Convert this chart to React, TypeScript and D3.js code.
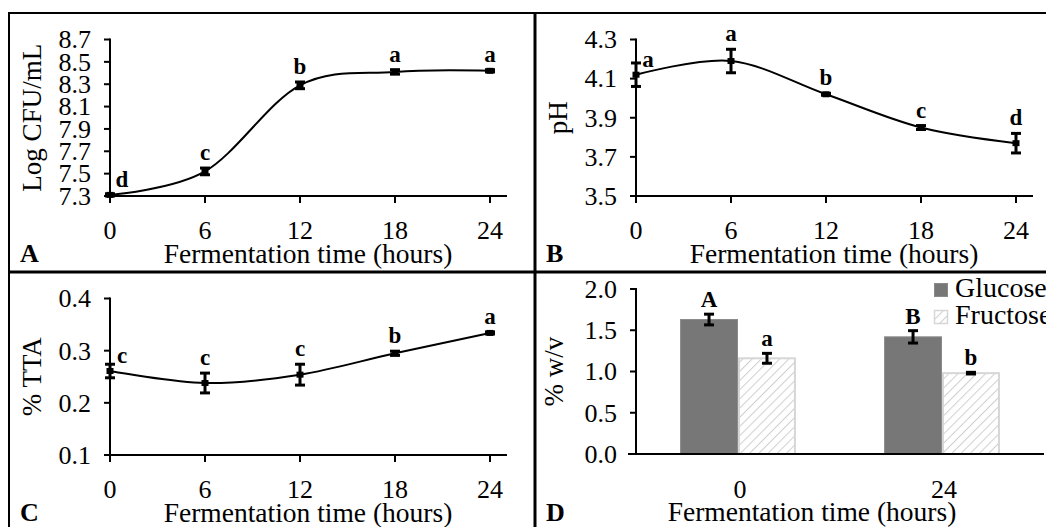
import * as d3 from "d3";

// ---- data ----
const hours = [0, 6, 12, 18, 24];

const cfuMean = [7.31, 7.52, 8.29, 8.41, 8.42];
const cfuErr = [0.01, 0.03, 0.03, 0.02, 0.01];
const cfuLetters = ["d", "c", "b", "a", "a"];
const cfuTicks = [7.3, 7.5, 7.7, 7.9, 8.1, 8.3, 8.5, 8.7];

const phMean = [4.12, 4.19, 4.02, 3.85, 3.77];
const phErr = [0.06, 0.06, 0.005, 0.01, 0.05];
const phLetters = ["a", "a", "b", "c", "d"];
const phTicks = [3.5, 3.7, 3.9, 4.1, 4.3];

const ttaMean = [0.261, 0.238, 0.254, 0.295, 0.334];
const ttaErr = [0.013, 0.019, 0.02, 0.004, 0.002];
const ttaLetters = ["c", "c", "c", "b", "a"];
const ttaTicks = [0.1, 0.2, 0.3, 0.4];

const sugarTimes = ["0", "24"];
const sugarSeries = ["Glucose", "Fructose"];
const glucoseMean = [1.63, 1.42];
const glucoseErr = [0.065, 0.075];
const glucoseLetters = ["A", "B"];
const fructoseMean = [1.16, 0.98];
const fructoseErr = [0.06, 0.01];
const fructoseLetters = ["a", "b"];
const sugarTicks = [0, 0.5, 1.0, 1.5, 2.0];

const FONT = "'Liberation Serif', 'Times New Roman', serif";
const fmt1 = d3.format(".1f");

// panel-local layout
const AX_X = 101;
const AX_BOTTOM = 183;
const AX_TOP = 26.5;

function ErrorBar({ x, y1, y2 }: { x: number; y1: number; y2: number }) {
  return (
    <g stroke="#000" strokeWidth={3}>
      <line x1={x} x2={x} y1={y1} y2={y2} />
      <line x1={x - 5} x2={x + 5} y1={y1} y2={y1} />
      <line x1={x - 5} x2={x + 5} y1={y2} y2={y2} />
    </g>
  );
}

function YTicks({ y, ticks }: { y: d3.ScaleLinear<number, number>; ticks: number[] }) {
  return (
    <g>
      {ticks.map((t) => (
        <g key={t}>
          <line x1={AX_X - 6} x2={AX_X} y1={y(t)} y2={y(t)} stroke="#000" strokeWidth={2} />
          <text x={AX_X - 19} y={y(t)} dy="0.34em" textAnchor="end" fontSize={26}>
            {fmt1(t)}
          </text>
        </g>
      ))}
    </g>
  );
}

type LineProps = {
  ox: number;
  oy: number;
  domain: [number, number];
  ticks: number[];
  mean: number[];
  err: number[];
  letters: string[];
  yTitle: string;
  tag: string;
};

function LinePanel({ ox, oy, domain, ticks, mean, err, letters, yTitle, tag }: LineProps) {
  const x = d3.scaleLinear().domain([0, 24]).range([AX_X, 481]);
  const y = d3.scaleLinear().domain(domain).range([AX_BOTTOM, AX_TOP]);
  const pts: [number, number][] = hours.map((h, i) => [x(h), y(mean[i])]);
  const path = d3.line().curve(d3.curveCatmullRom.alpha(0))(pts) || "";

  return (
    <g transform={`translate(${ox},${oy})`} fontFamily={FONT}>
      <path d={path} fill="none" stroke="#000" strokeWidth={2} />
      {hours.map((h, i) => (
        <g key={h}>
          <ErrorBar x={x(h)} y1={y(mean[i] + err[i])} y2={y(mean[i] - err[i])} />
          <rect x={x(h) - 3.5} y={y(mean[i]) - 3} width={7} height={6} fill="#000" />
          <text
            x={i === 0 ? x(h) + 12 : x(h)}
            y={i === 0 ? y(mean[i]) - 8 : y(mean[i] + err[i]) - 8}
            textAnchor="middle"
            fontSize={23}
            fontWeight="bold"
          >
            {letters[i]}
          </text>
        </g>
      ))}
      <line x1={AX_X} x2={AX_X} y1={AX_TOP - 1} y2={AX_BOTTOM} stroke="#000" strokeWidth={2} />
      <line x1={AX_X - 6} x2={498} y1={AX_BOTTOM} y2={AX_BOTTOM} stroke="#000" strokeWidth={2} />
      <YTicks y={y} ticks={ticks} />
      {hours.map((h) => (
        <g key={h}>
          <line x1={x(h)} x2={x(h)} y1={AX_BOTTOM} y2={AX_BOTTOM + 7} stroke="#000" strokeWidth={2} />
          <text x={x(h)} y={226} textAnchor="middle" fontSize={26}>
            {h}
          </text>
        </g>
      ))}
      <text x={299} y={250} textAnchor="middle" fontSize={27.5}>
        Fermentation time (hours)
      </text>
      <text
        transform={`translate(32,${(AX_TOP + AX_BOTTOM) / 2}) rotate(-90)`}
        textAnchor="middle"
        fontSize={27}
      >
        {yTitle}
      </text>
      <text x={11} y={249} fontSize={26} fontWeight="bold">
        {tag}
      </text>
    </g>
  );
}

function BarPanel({ ox, oy }: { ox: number; oy: number }) {
  const x = d3.scaleBand().domain(sugarTimes).range([AX_X, 509]);
  const inner = d3
    .scaleBand()
    .domain(sugarSeries)
    .range([x.bandwidth() * 0.216, x.bandwidth() * 0.784]);
  const y = d3.scaleLinear().domain([0, 2]).range([182, 17]);
  const seriesMean = [glucoseMean, fructoseMean];
  const seriesErr = [glucoseErr, fructoseErr];
  const seriesLetters = [glucoseLetters, fructoseLetters];

  return (
    <g transform={`translate(${ox},${oy})`} fontFamily={FONT}>
      {sugarTimes.map((t, ci) => (
        <g key={t}>
          {sugarSeries.map((s, si) => {
            const bx = (x(t) || 0) + (inner(s) || 0);
            const bw = inner.bandwidth();
            const v = seriesMean[si][ci];
            const e = seriesErr[si][ci];
            const cx = bx + bw / 2;
            return (
              <g key={s}>
                <rect
                  x={bx + (si === 1 ? 1 : 0.5)}
                  y={y(v)}
                  width={bw - (si === 1 ? 2 : 1)}
                  height={y(0) - y(v)}
                  fill={si === 0 ? "#777777" : "url(#hatch)"}
                  stroke={si === 0 ? "#8a8a8a" : "#d6d6d6"}
                  strokeWidth={si === 0 ? 1 : 2}
                />
                <ErrorBar x={cx} y1={y(v + e)} y2={y(v - e)} />
                <text x={cx} y={y(v + e) - 7} textAnchor="middle" fontSize={23} fontWeight="bold">
                  {seriesLetters[si][ci]}
                </text>
              </g>
            );
          })}
          <text x={(x(t) || 0) + x.bandwidth() / 2 + 2} y={226} textAnchor="middle" fontSize={26}>
            {t}
          </text>
        </g>
      ))}
      <line x1={AX_X} x2={AX_X} y1={y(2) - 1} y2={y(0)} stroke="#000" strokeWidth={2} />
      <line x1={AX_X - 8} x2={509} y1={y(0)} y2={y(0)} stroke="#000" strokeWidth={2} />
      <YTicks y={y} ticks={sugarTicks} />
      <text x={277} y={249} textAnchor="middle" fontSize={27.5}>
        Fermentation time (hours)
      </text>
      <text transform={`translate(28,${(y(0) + y(2)) / 2}) rotate(-90)`} textAnchor="middle" fontSize={27}>
        % w/v
      </text>
      <text x={11} y={249} fontSize={26} fontWeight="bold">
        D
      </text>
      {/* legend */}
      {sugarSeries.map((s, si) => (
        <g key={s} transform={`translate(399,${11 + si * 27})`}>
          <rect
            x={0.5}
            y={0.5}
            width={13}
            height={13}
            fill={si === 0 ? "#777777" : "url(#hatch)"}
            stroke={si === 0 ? "#8a8a8a" : "#d6d6d6"}
            strokeWidth={si === 0 ? 1 : 1.5}
          />
          <text x={21} y={14} fontSize={28}>
            {s}
          </text>
        </g>
      ))}
    </g>
  );
}

export default function App() {
  return (
    <svg
      width={1046}
      height={527}
      style={{ position: "absolute", left: 0, top: 0, background: "#fff" }}
    >
      <defs>
        <pattern id="hatch" patternUnits="userSpaceOnUse" width={6.5} height={6.5} patternTransform="rotate(45)">
          <rect width={6.5} height={6.5} fill="#fff" />
          <line x1={0} y1={0} x2={0} y2={6.5} stroke="#cfcfcf" strokeWidth={2} />
        </pattern>
      </defs>
      <rect width={1046} height={527} fill="#fff" />
      <LinePanel
        ox={9}
        oy={13}
        domain={[7.3, 8.7]}
        ticks={cfuTicks}
        mean={cfuMean}
        err={cfuErr}
        letters={cfuLetters}
        yTitle="Log CFU/mL"
        tag="A"
      />
      <LinePanel
        ox={535}
        oy={13}
        domain={[3.5, 4.3]}
        ticks={phTicks}
        mean={phMean}
        err={phErr}
        letters={phLetters}
        yTitle="pH"
        tag="B"
      />
      <LinePanel
        ox={9}
        oy={272}
        domain={[0.1, 0.4]}
        ticks={ttaTicks}
        mean={ttaMean}
        err={ttaErr}
        letters={ttaLetters}
        yTitle="% TTA"
        tag="C"
      />
      <BarPanel ox={535} oy={272} />
      {/* frame */}
      <g stroke="#000">
        <line x1={8} x2={1046} y1={13} y2={13} strokeWidth={2} />
        <line x1={9} x2={9} y1={12} y2={527} strokeWidth={2} />
        <line x1={535} x2={535} y1={12} y2={527} strokeWidth={3} />
        <line x1={8} x2={1046} y1={272} y2={272} strokeWidth={3} />
      </g>
    </svg>
  );
}
